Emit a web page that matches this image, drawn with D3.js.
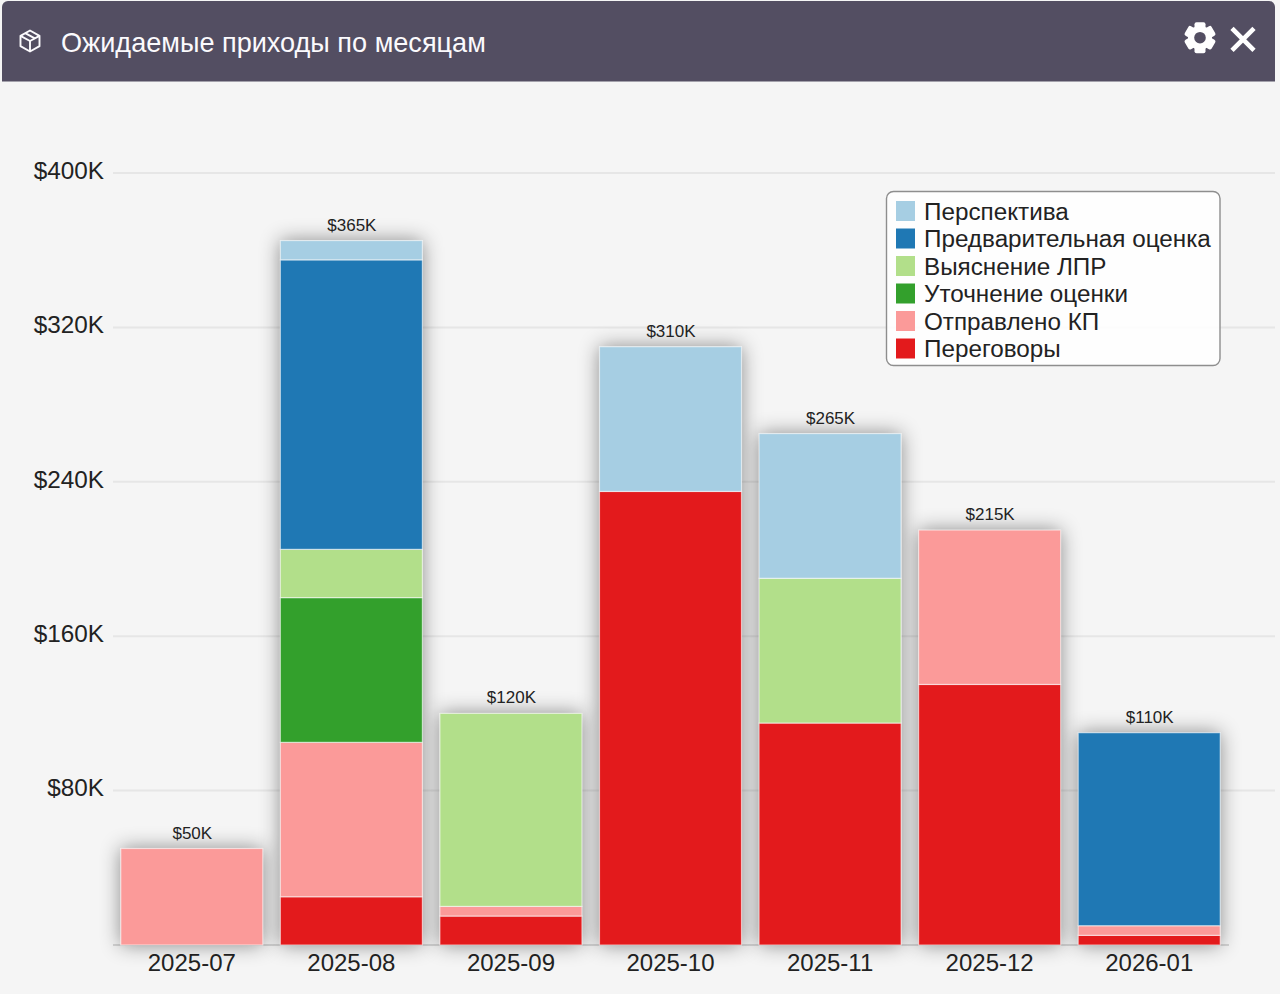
<!DOCTYPE html>
<html>
  <head>
    <meta charset="utf-8">
    <title>Ожидаемые приходы по месяцам</title>
    <style>
    html, body{
      margin: 0;
      padding: 0;
      background-color: #f5f5f5;
    }
    svg{
      display: block;
    }
    </style>
    <script src="https://d3js.org/d3.v7.min.js"></script>
  </head>
  <body>
    <div id="container"></div>
    <script>
    //size of the page
    const width = 1280,
          height = 994;

    //data, in thousands of dollars
    const months = ["2025-07", "2025-08", "2025-09", "2025-10", "2025-11", "2025-12", "2026-01"];
    const stages = ["Перспектива", "Предварительная оценка", "Выяснение ЛПР", "Уточнение оценки", "Отправлено КП", "Переговоры"];
    const perspektiva = [0, 10, 0, 75, 75, 0, 0];
    const predvaritelnaya = [0, 150, 0, 0, 0, 0, 100];
    const vyyasnenie = [0, 25, 100, 0, 75, 0, 0];
    const utochnenie = [0, 75, 0, 0, 0, 0, 0];
    const otpravleno = [50, 80, 5, 0, 0, 80, 5];
    const peregovory = [0, 25, 15, 235, 115, 135, 5];
    const yTicks = [80, 160, 240, 320, 400];
    const stageColors = ["#a6cee3", "#1f78b4", "#b2df8a", "#33a02c", "#fb9a99", "#e31a1c"];

    const seriesValues = [perspektiva, predvaritelnaya, vyyasnenie, utochnenie, otpravleno, peregovory];

    //table for d3.stack, one row per month
    const rows = months.map(function(m, i) {
      const row = {month: m};
      stages.forEach(function(s, k) { row[s] = seriesValues[k][i]; });
      return row;
    });

    //bottom of the stack is the last stage, so the stack order is reversed
    const stack = d3.stack().keys(stages.slice().reverse());
    const layers = stack(rows);

    const x = d3.scaleBand()
      .domain(months)
      .range([112, 1229])
      .paddingInner(0.11)
      .paddingOuter(0.055);

    const y = d3.scaleLinear()
      .domain([0, 400])
      .range([945, 173]);

    const color = d3.scaleOrdinal().domain(stages).range(stageColors);

    //sum of all stages for one month
    function total(i){
      return d3.sum(seriesValues, function(s) { return s[i]; });
    }

    const svg = d3.select("#container")
      .append("svg")
      .attr("width", width)
      .attr("height", height);

    //soft grey shadow behind the bars
    const defs = svg.append("defs");
    const shadow = defs.append("filter")
      .attr("id", "barShadow")
      .attr("x", "-25%").attr("y", "-25%")
      .attr("width", "150%").attr("height", "150%");
    shadow.append("feDropShadow")
      .attr("dx", 0).attr("dy", 0)
      .attr("stdDeviation", 10)
      .attr("flood-color", "#000")
      .attr("flood-opacity", 0.45);

    //header band
    svg.append("path")
      .attr("d", "M2 81.5V7a6 6 0 0 1 6-6H1269a6 6 0 0 1 6 6V81.5Z")
      .attr("fill", "#534e62");

    svg.append("text")
      .attr("x", 61)
      .attr("y", 52)
      .attr("fill", "#fbfafd")
      .style("font-family", "'Liberation Sans', Arial, sans-serif")
      .style("font-size", "27.1px")
      .text("Ожидаемые приходы по месяцам");

    //cube icon
    svg.append("g")
      .attr("transform", "translate(30,41)")
      .attr("fill", "none")
      .attr("stroke", "#fbfafd")
      .attr("stroke-width", 1.9)
      .attr("stroke-linejoin", "round")
      .selectAll("path")
      .data(["M0-10.5L9.5-5.2V5.2L0 10.5L-9.5 5.2V-5.2Z", "M-9.5-5.2L0 0L9.5-5.2M0 0V10.5", "M-4.8-7.8L4.8-2.6"])
      .enter()
      .append("path")
      .attr("d", function(d) { return d; });

    //gear icon
    const gear = svg.append("g").attr("transform", "translate(1200,37.7)");
    gear.selectAll("rect")
      .data([0, 60, 120])
      .enter()
      .append("rect")
      .attr("x", -5.5).attr("y", -15.5)
      .attr("width", 11).attr("height", 31)
      .attr("rx", 2)
      .attr("fill", "#ffffff")
      .attr("transform", function(d) { return "rotate(" + d + ")"; });
    gear.append("circle").attr("r", 12).attr("fill", "#ffffff");
    gear.append("circle").attr("r", 5.8).attr("fill", "#534e62");

    //close icon
    svg.append("path")
      .attr("d", "M1232 28.3L1254 50.3M1254 28.3L1232 50.3")
      .attr("stroke", "#ffffff")
      .attr("stroke-width", 4.6)
      .attr("fill", "none");

    //grid lines
    svg.append("g")
      .selectAll("line")
      .data([0].concat(yTicks))
      .enter()
      .append("line")
      .attr("x1", 113)
      .attr("x2", function(d) { return d === 0 ? 1229 : 1275; })
      .attr("y1", function(d) { return y(d); })
      .attr("y2", function(d) { return y(d); })
      .attr("stroke", function(d) { return d === 0 ? "#d4d4d4" : "#e6e6e6"; })
      .attr("stroke-width", 2);

    //y axis labels
    const yAxis = svg.append("g")
      .attr("transform", "translate(104,0)")
      .call(d3.axisLeft(y)
        .tickValues(yTicks)
        .tickSize(0)
        .tickPadding(0)
        .tickFormat(function(d) { return "$" + d + "K"; }));
    yAxis.select(".domain").remove();
    yAxis.selectAll("text")
      .attr("fill", "#222")
      .attr("dy", "0.22em")
      .style("font-family", "'Liberation Sans', Arial, sans-serif")
      .style("font-size", "24.3px");

    //x axis labels
    const xAxis = svg.append("g")
      .attr("transform", "translate(0,945)")
      .call(d3.axisBottom(x).tickSize(0).tickPadding(9));
    xAxis.select(".domain").remove();
    xAxis.selectAll("text")
      .attr("fill", "#222")
      .style("font-family", "'Liberation Sans', Arial, sans-serif")
      .style("font-size", "24px");

    //stacked bars
    const barGroup = svg.append("g");

    //one shadow per column
    barGroup.selectAll("rect.back")
      .data(rows)
      .enter()
      .append("rect")
      .attr("class", "back")
      .attr("x", function(d) { return x(d.month); })
      .attr("width", x.bandwidth())
      .attr("y", function(d, i) { return y(total(i)); })
      .attr("height", function(d, i) { return y(0) - y(total(i)); })
      .attr("fill", "#cccccc")
      .attr("filter", "url(#barShadow)");

    barGroup.selectAll("g.layer")
      .data(layers)
      .enter()
      .append("g")
      .attr("class", "layer")
      .attr("fill", function(d) { return color(d.key); })
      .selectAll("rect")
      .data(function(d) { return d.filter(function(p) { return p[1] > p[0]; }); })
      .enter()
      .append("rect")
      .attr("x", function(d) { return x(d.data.month); })
      .attr("y", function(d) { return y(d[1]); })
      .attr("width", x.bandwidth())
      .attr("height", function(d) { return y(d[0]) - y(d[1]); })
      .attr("stroke", "#ffffff")
      .attr("stroke-opacity", 0.55)
      .attr("stroke-width", 1.2);

    //totals above the bars
    svg.append("g")
      .selectAll("text")
      .data(rows)
      .enter()
      .append("text")
      .attr("x", function(d) { return x(d.month) + x.bandwidth() / 2 + 0.5; })
      .attr("y", function(d, i) { return y(total(i)) - 10; })
      .attr("text-anchor", "middle")
      .attr("fill", "#222")
      .style("font-family", "'Liberation Sans', Arial, sans-serif")
      .style("font-size", "17px")
      .text(function(d, i) { return "$" + total(i) + "K"; });

    //legend
    const legend = svg.append("g");
    legend.append("rect")
      .attr("x", 886.5).attr("y", 191.5)
      .attr("width", 333.5).attr("height", 174)
      .attr("rx", 7)
      .attr("fill", "#ffffff")
      .attr("fill-opacity", 0.85)
      .attr("stroke", "#8e8e8e")
      .attr("stroke-width", 1.4);

    const legendRow = d3.scalePoint()
      .domain(stages)
      .range([211, 348.5]);

    legend.selectAll("rect.swatch")
      .data(stages)
      .enter()
      .append("rect")
      .attr("class", "swatch")
      .attr("x", 896)
      .attr("y", function(d) { return legendRow(d) - 10; })
      .attr("width", 19)
      .attr("height", 20)
      .attr("fill", function(d) { return color(d); });

    legend.selectAll("text")
      .data(stages)
      .enter()
      .append("text")
      .attr("x", 924)
      .attr("y", function(d) { return legendRow(d) + 8.5; })
      .attr("fill", "#222")
      .style("font-family", "'Liberation Sans', Arial, sans-serif")
      .style("font-size", "24.25px")
      .text(function(d) { return d; });
    </script>
  </body>
</html>
